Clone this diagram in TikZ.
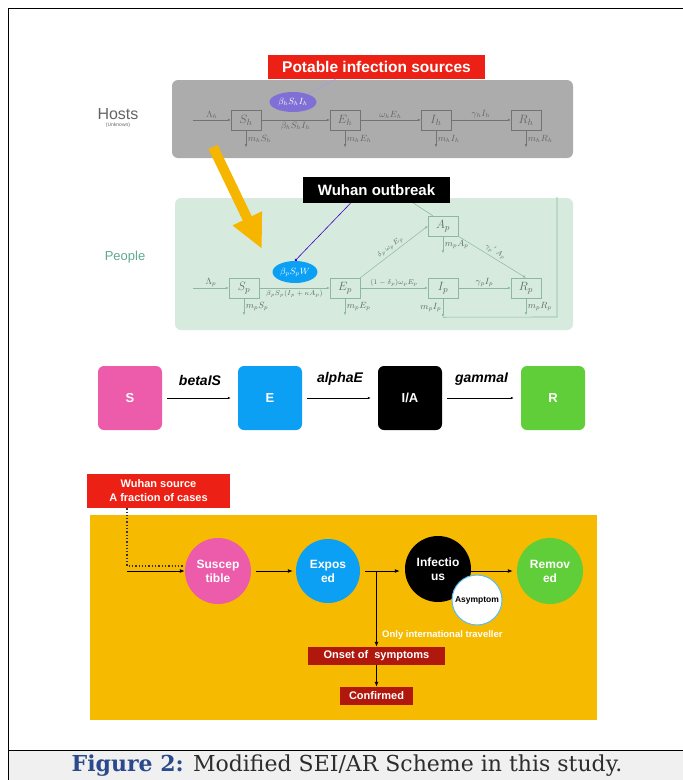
\documentclass[tikz,border=0pt]{standalone}
\usepackage{fontspec}
\setmainfont{Liberation Sans}
\setsansfont{Liberation Sans}
\newfontfamily\capfont{DejaVu Serif}
\usepackage{amsmath}
\usetikzlibrary{arrows.meta,positioning,shapes.geometric}
\definecolor{HostGray}{RGB}{172,172,172}
\definecolor{HostLine}{RGB}{115,115,115}
\definecolor{HostText}{RGB}{100,100,100}
\definecolor{HostViolet}{RGB}{128,112,214}
\definecolor{PeopleGreen}{RGB}{214,235,222}
\definecolor{PeopleLine}{RGB}{140,184,160}
\definecolor{PeopleText}{RGB}{90,110,100}
\definecolor{PeopleTeal}{RGB}{96,168,148}
\definecolor{SourceRed}{RGB}{236,32,20}
\definecolor{ArrowAmber}{RGB}{246,182,0}
\definecolor{PanelOrange}{RGB}{246,186,0}
\definecolor{SusPink}{RGB}{236,92,170}
\definecolor{ExpBlue}{RGB}{12,160,244}
\definecolor{RemGreen}{RGB}{96,206,56}
\definecolor{OnsetRed}{RGB}{176,24,14}
\definecolor{CapBlue}{RGB}{42,74,140}
\definecolor{CapGray}{RGB}{240,240,240}
\definecolor{CapText}{RGB}{45,45,45}
\newcommand{\pxsize}[1]{\fontsize{#1}{#1}\selectfont}

\begin{document}
\begin{tikzpicture}[
    x=1pt, y=-1pt, font=\sffamily,
    comp/.style={draw=#1, minimum width=30pt, minimum height=20pt, inner sep=0pt, font=\pxsize{13}},
    flow/.style={-{Latex[length=3pt,width=2.5pt]}, #1, line width=0.5pt},
    rate/.style={font=\pxsize{9}, inner sep=1.5pt},
    panel/.style={rounded corners=6pt, inner sep=0pt},
    tag/.style={fill=#1, text=white, font=\bfseries\fontsize{11}{14}\selectfont, inner sep=0pt, align=center},
    stage/.style={rounded corners=6pt, fill=#1, minimum size=64pt, inner sep=0pt, text=white, font=\bfseries\pxsize{13}},
    ball/.style={circle, fill=#1, minimum size=66pt, inner sep=0pt, text=white, font=\bfseries\fontsize{12}{14}\selectfont, align=center},
    barr/.style={-{Latex[length=5pt,width=4pt]}, line width=0.9pt},
    slab/.style={font=\bfseries\itshape\pxsize{14}, above=9pt},
  ]
    \useasboundingbox (0,0) rectangle (683,780);

    % Frame and caption
    \fill[CapGray] (8,750) rectangle (683,780);
    \draw[line width=1pt] (683,8) -- (8,8) -- (8,780);
    \draw[line width=0.8pt] (8,750) -- (683,750);
    \node[font=\capfont\pxsize{22}, text=CapText] (caption) at (347,766)
      {\textcolor{CapBlue}{\bfseries Figure 2:} Modified SEI/AR Scheme in this study.};

    % Hosts panel
    \node[panel, fill=HostGray, minimum width=401pt, minimum height=78pt] (hostpanel) at (372.5,119) {};
    \node[text=HostText, font=\pxsize{16}] (hosts) at (118,114) {Hosts};
    \node[below=0pt of hosts, text=HostText, font=\pxsize{5}, inner sep=0pt] (unknown) {(Unknown)};
    \node[tag=SourceRed, font=\bfseries\pxsize{15.5}, minimum width=217pt, minimum height=24pt] (potable) at (376.5,67) {Potable infection sources};
    \node[ellipse, fill=HostViolet, minimum width=47pt, minimum height=20pt, inner sep=0pt, text=white, font=\pxsize{9}] (forceh) at (293,102) {$\beta_h S_h I_h$};
    \draw[HostViolet!70, line width=0.6pt] ([xshift=-41pt]potable.south) -- (forceh);

    \node[comp=HostLine, text=HostText] (sh) at (246,120) {$S_h$};
    \node[comp=HostLine, text=HostText] (eh) at (345,120) {$E_h$};
    \node[comp=HostLine, text=HostText] (ih) at (436,120) {$I_h$};
    \node[comp=HostLine, text=HostText] (rh) at (526,120) {$R_h$};
    \coordinate (lamh) at (193,120);

    \draw[flow=HostLine] (lamh) -- (sh) node[midway, above, rate, text=HostText] {$\Lambda_h$};
    \draw[flow=HostLine] (sh) -- (eh) node[midway, below, rate, text=HostText] {$\beta_h S_h I_h$};
    \draw[flow=HostLine] (eh) -- (ih) node[midway, above, rate, text=HostText] {$\omega_h E_h$};
    \draw[flow=HostLine] (ih) -- (rh) node[midway, above, rate, text=HostText] {$\gamma_h I_h$};
    \foreach \bx/\lbl in {sh/{m_h S_h}, eh/{m_h E_h}, ih/{m_h I_h}, rh/{m_h R_h}} {
      \coordinate (\bx-out) at ([yshift=-17pt]\bx.south);
      \draw[flow=HostLine] (\bx.south) -- (\bx-out) node[midway, right, rate, text=HostText] {$\lbl$};
    }

    % People panel
    \node[panel, fill=PeopleGreen, minimum width=398pt, minimum height=132pt] (peoplepanel) at (374,264) {};
    \node[text=PeopleTeal, font=\pxsize{13}] (people) at (125,257) {People};
    \node[tag=black, font=\bfseries\pxsize{15}, minimum width=147pt, minimum height=26pt] (wuhan) at (376.5,190) {Wuhan outbreak};
    \node[ellipse, fill=ExpBlue, minimum width=45pt, minimum height=22pt, inner sep=0pt, text=white, font=\pxsize{9}] (forcep) at (295,272) {$\beta_p S_p W$};

    \node[comp=PeopleLine, text=PeopleText] (sp) at (244,288) {$S_p$};
    \node[comp=PeopleLine, text=PeopleText] (ep) at (345,288) {$E_p$};
    \node[comp=PeopleLine, text=PeopleText] (ap) at (443,226) {$A_p$};
    \node[comp=PeopleLine, text=PeopleText] (ip) at (443,288) {$I_p$};
    \node[comp=PeopleLine, text=PeopleText] (rp) at (526,288) {$R_p$};
    \coordinate (lamp) at (193,288);

    \draw[blue!55!violet, line width=0.6pt, -{Circle[length=2.5pt]}] ([xshift=-26pt]wuhan.south) -- (forcep.north);
    \draw[PeopleLine, line width=0.6pt] ([xshift=37pt]wuhan.south) -- ([xshift=-10pt]ap.north);

    \draw[flow=PeopleLine] (lamp) -- (sp) node[midway, above, rate, text=PeopleText] {$\Lambda_p$};
    \draw[flow=PeopleLine] (sp) -- (ep) node[midway, below, rate, font=\pxsize{7.5}, text=PeopleText] {$\beta_p S_p(I_p+\kappa A_p)$};
    \draw[flow=PeopleLine] (ep) -- (ip) node[midway, above, rate, font=\pxsize{7.5}, text=PeopleText] {$(1-\delta_p)\omega_p E_p$};
    \draw[flow=PeopleLine] (ip) -- (rp) node[midway, above, rate, text=PeopleText] {$\gamma_p I_p$};
    \draw[flow=PeopleLine] (ep.north east) -- (ap.west) node[midway, above=1pt, sloped, rate, font=\pxsize{7.5}, text=PeopleText] {$\delta_p\,\omega_p\,E_p$};
    \draw[flow=PeopleLine] (ap.south east) -- (rp.north) node[midway, above=1pt, sloped, rate, font=\pxsize{7.5}, text=PeopleText] {$\gamma_p{}'\,A_p$};
    \foreach \bx/\lbl in {sp/{m_p S_p}, ep/{m_p E_p}, ap/{m_p A_p}, rp/{m_p R_p}} {
      \coordinate (\bx-out) at ([yshift=-17pt]\bx.south);
      \draw[flow=PeopleLine] (\bx.south) -- (\bx-out) node[midway, right, rate, text=PeopleText] {$\lbl$};
    }
    \coordinate (ip-out) at ([yshift=-19pt]ip.south);
    \coordinate (loopcorner) at (557,317);
    \coordinate (looptop) at (557,197);
    \draw[flow=PeopleLine] (ip.south) -- (ip-out) node[midway, left, rate, text=PeopleText] {$m_p I_p$};
    \draw[PeopleLine, line width=0.6pt] (ip-out) -- (loopcorner) -- (looptop);

    % Hosts to people
    \coordinate (amberfrom) at (213,147);
    \coordinate (amberto) at (262,249);
    \draw[ArrowAmber, line width=10pt, -{Triangle[length=34pt,width=30pt]}] (amberfrom) -- (amberto);

    % SEIR row
    \node[stage=SusPink] (s) at (130,398) {S};
    \node[stage=ExpBlue] (e) at (270,398) {E};
    \node[stage=black] (ia) at (410,398) {I/A};
    \node[stage=RemGreen] (r) at (553,398) {R};
    \draw[flow=black, line width=0.7pt, shorten <=5pt, shorten >=7pt] (s) -- (e) node[midway, slab] {betaIS};
    \draw[flow=black, line width=0.7pt, shorten <=5pt, shorten >=7pt] (e) -- (ia) node[midway, slab] {alphaE};
    \draw[flow=black, line width=0.7pt, shorten <=5pt, shorten >=7pt] (ia) -- (r) node[midway, slab] {gammaI};

    % Imported cases panel
    \node[panel, rounded corners=0pt, fill=PanelOrange, minimum width=507pt, minimum height=205pt] (importpanel) at (343.5,617.5) {};
    \node[tag=SourceRed, minimum width=143pt, minimum height=34pt] (wsrc) at (158.5,491) {Wuhan source\\A fraction of cases};
    \node[ball=SusPink] (sus) at (218,571) {Suscep\\tible};
    \node[ball=ExpBlue, minimum size=64pt] (exp) at (328,571) {Expos\\ed};
    \node[ball=black] (inf) at (438,569) {Infectio\\us};
    \node[ball=RemGreen] (rem) at (550,571) {Remov\\ed};
    \node[tag=OnsetRed, minimum width=137pt, minimum height=18pt] (onset) at (376.5,656) {Onset of~ symptoms};
    \node[tag=OnsetRed, minimum width=73pt, minimum height=18pt] (confirmed) at (376.5,696) {Confirmed};
    \node[anchor=west, text=white, font=\bfseries\pxsize{9.5}, inner sep=0pt] (traveller) at (382,635) {Only international traveller};

    \coordinate (dotbend) at (127,566);
    \coordinate (dotend) at (184,566);
    \coordinate (feed) at (127,571);
    \draw[dotted, line width=1.3pt, black!80] (wsrc.south -| dotbend) -- (dotbend) -- (dotend);
    \draw[barr] (feed) -- (sus);
    \draw[barr, shorten <=5pt, shorten >=3pt] (sus) -- (exp);
    \coordinate (split) at (onset.north |- exp.east);
    \draw[barr, shorten <=5pt, shorten >=5pt] (exp.east) -- (exp.east -| inf.west);
    \draw[barr] (split) -- (onset);
    \draw[barr] (onset) -- (confirmed);
    \draw[barr, shorten >=4pt] (rem.west -| inf.east) -- (rem.west);
    \node[circle, fill=white, draw=ExpBlue!70, line width=1pt, minimum size=50pt, inner sep=0pt, font=\bfseries\pxsize{8.5}] (asym) at (477,600) {Asymptom};
  \end{tikzpicture}
\end{document}
